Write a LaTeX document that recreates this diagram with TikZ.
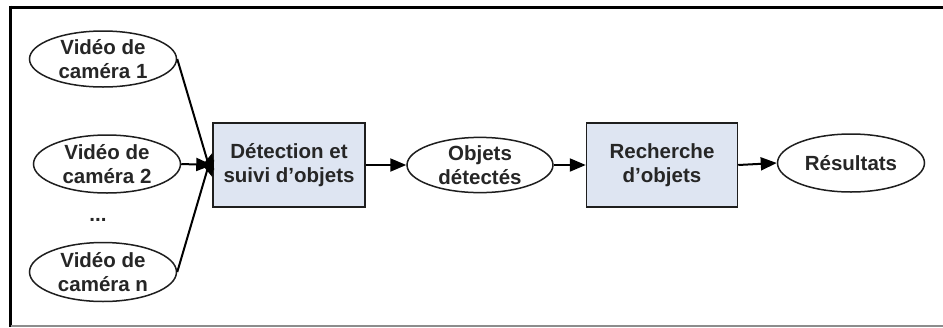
\documentclass[tikz,border=0pt]{standalone}
\usepackage{fontspec}
\setmainfont{Liberation Sans}
\usetikzlibrary{shapes.geometric,arrows.meta}
\definecolor{boxfill}{RGB}{222,229,242}
\definecolor{lineclr}{RGB}{30,30,30}
\begin{document}
\begin{tikzpicture}[x=1pt,y=-1pt,
  txt/.style={font=\fontsize{20.5}{24}\selectfont\bfseries, align=center, text=black!85},
  ell/.style={ellipse, draw=lineclr, line width=1.5pt, fill=white, inner sep=0pt, txt},
  procbox/.style={rectangle, draw=lineclr, line width=1.5pt, fill=boxfill, inner sep=0pt, txt},
  conn/.style={-{Triangle[length=16pt,width=13pt]}, line width=2pt, draw=black}
]
\useasboundingbox (0,0) rectangle (943,327);
\fill[white] (0,0) rectangle (943,327);
% frame
\draw[black, line width=3pt] (10.5,7) -- (943,7);
\draw[black, line width=3pt] (10.5,5.5) -- (10.5,327);
\draw[black!45, line width=2pt] (10.5,326) -- (943,326);
% nodes
\node[ell, minimum width=147pt, minimum height=56pt] (v1) at (103,59) {Vidéo de\\caméra 1};
\node[ell, minimum width=147pt, minimum height=58pt] (v2) at (107,164) {Vidéo de\\caméra 2};
\node[txt] (dots) at (98,220) {...};
\node[ell, minimum width=147pt, minimum height=59pt] (vn) at (103,272) {Vidéo de\\caméra n};
\node[procbox, minimum width=152pt, minimum height=84pt] (det) at (289,165) {Détection et\\suivi d’objets};
\node[ell, minimum width=146pt, minimum height=50pt] (obj) at (480,165) {Objets\\détectés};
\node[procbox, minimum width=151pt, minimum height=84pt] (rech) at (662,165) {Recherche\\d’objets};
\node[ell, minimum width=147pt, minimum height=58pt] (res) at (851,163) {Résultats};
% connectors
\coordinate (d1) at ([yshift=-12pt]det.west);
\coordinate (dn) at ([yshift=12pt]det.west);
\draw[conn] (v1.east) -- (d1);
\draw[conn] (v2.east) -- (det.west);
\draw[conn] (vn.east) -- (dn);
\draw[conn] (det.east) -- (obj.west);
\draw[conn] (obj.east) -- (rech.west);
\draw[conn] (rech.east) -- (res.west);
\end{tikzpicture}
\end{document}
